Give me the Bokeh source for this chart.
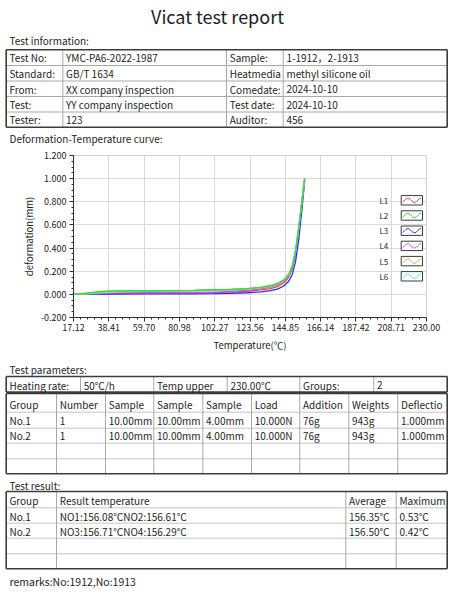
from bokeh.plotting import figure
from bokeh.models import Range1d, FixedTicker, NumeralTickFormatter, BoxAnnotation
from bokeh.layouts import column
from bokeh.embed import file_html
from bokeh.resources import INLINE
from bokeh.core.properties import value
import numpy as np

FONT = "Noto Sans CJK SC"

# ---------------- data ----------------
title_text = "Vicat test report"
section_titles = ["Test information:", "Deformation-Temperature curve:",
                  "Test parameters:", "Test result:"]

info_labels_left = ["Test No:", "Standard:", "From:", "Test:", "Tester:"]
info_values_left = ["YMC-PA6-2022-1987", "GB/T 1634", "XX company inspection",
                    "YY company inspection", "123"]
info_labels_right = ["Sample:", "Heatmedia", "Comedate:", "Test date:", "Auditor:"]
info_values_right = ["1-1912\uff0c2-1913", "methyl silicone oil", "2024-10-10",
                     "2024-10-10", "456"]

param_cells = ["Heating rate:", "50\u2103/h", "Temp upper", "230.00\u2103", "Groups:", "2"]

group_header = ["Group", "Number", "Sample", "Sample", "Sample", "Load",
                "Addition", "Weights", "Deflectio"]
group_row1 = ["No.1", "1", "10.00mm", "10.00mm", "4.00mm", "10.000N", "76g", "943g", "1.000mm"]
group_row2 = ["No.2", "1", "10.00mm", "10.00mm", "4.00mm", "10.000N", "76g", "943g", "1.000mm"]

result_header = ["Group", "Result temperature", "Average", "Maximum"]
result_row1 = ["No.1", "NO1:156.08\u2103NO2:156.61\u2103", "156.35\u2103", "0.53\u2103"]
result_row2 = ["No.2", "NO3:156.71\u2103NO4:156.29\u2103", "156.50\u2103", "0.42\u2103"]

remarks_text = "remarks:No:1912,No:1913"

# curve data (temperature in degC, deformation in mm)
temps = [17.12, 25, 35, 45, 60, 75, 90, 102, 112, 122, 130, 136, 140, 144,
         147, 149, 151, 153, 155, 156.5]
L1 = [0, 0.002, 0.005, 0.008, 0.010, 0.012, 0.014, 0.016, 0.020, 0.027, 0.038,
      0.050, 0.066, 0.100, 0.150, 0.22, 0.34, 0.55, 0.80, 0.99]
L2 = [0, 0.010, 0.025, 0.030, 0.031, 0.032, 0.035, 0.040, 0.042, 0.050, 0.060,
      0.075, 0.092, 0.125, 0.175, 0.24, 0.37, 0.58, 0.82, 1.00]
L3 = [0, 0.000, 0.002, 0.003, 0.004, 0.004, 0.005, 0.006, 0.008, 0.014, 0.022,
      0.032, 0.045, 0.072, 0.115, 0.17, 0.28, 0.48, 0.75, 0.98]
L4 = [0, 0.003, 0.008, 0.012, 0.014, 0.015, 0.016, 0.018, 0.025, 0.035, 0.048,
      0.062, 0.080, 0.115, 0.165, 0.235, 0.36, 0.57, 0.81, 0.99]
L5 = [0, 0.005, 0.015, 0.022, 0.025, 0.027, 0.030, 0.034, 0.038, 0.046, 0.056,
      0.070, 0.087, 0.120, 0.170, 0.24, 0.365, 0.575, 0.815, 0.995]
L6 = [0, 0.006, 0.018, 0.024, 0.027, 0.029, 0.032, 0.036, 0.040, 0.048, 0.058,
      0.072, 0.089, 0.122, 0.172, 0.24, 0.368, 0.578, 0.818, 0.998]
series_names = ["L1", "L2", "L3", "L4", "L5", "L6"]
series_values = [L1, L2, L3, L4, L5, L6]
series_colors = ["#ff3b3b", "#33dd33", "#2a2aff", "#d24fe0", "#f0a838", "#55eedd"]

x_ticks = [17.12, 38.41, 59.70, 80.98, 102.27, 123.56, 144.85, 166.14, 187.42, 208.71, 230.00]
y_ticks = [-0.2, 0.0, 0.2, 0.4, 0.6, 0.8, 1.0, 1.2]

x_label = "Temperature(\u2103)"
y_label = "deformation(mm)"

# ---------------- helpers ----------------
W = 471
OUTER = "#3c3c3c"
INNER_V = "#a8a8a8"
INNER_H = "#c4c4c4"
TXT = "#1e1e1e"
FS = value("10px")


def page_fig(y_top, y_bot):
    p = figure(width=W, height=int(round(y_bot - y_top)), title=None,
               x_range=Range1d(0, W), y_range=Range1d(y_bot, y_top),
               x_axis_type=None, y_axis_type=None, toolbar_location=None,
               output_backend="svg", min_border=0, outline_line_color=None,
               frame_align=False)
    p.grid.visible = False
    return p


def txt(p, xs, ys, texts, size=FS, align="left"):
    p.text(x=xs, y=ys, text=texts, text_font=value(FONT), text_font_size=size,
           text_baseline="middle", text_align=align, text_color=TXT)


def table(p, left, right, top, bottom, rows, cols, inner_h=INNER_H):
    if rows:
        p.segment(x0=[left] * len(rows), x1=[right] * len(rows), y0=rows, y1=rows,
                  line_color=inner_h, line_width=1)
    if cols:
        p.segment(x0=cols, x1=cols, y0=[top] * len(cols), y1=[bottom] * len(cols),
                  line_color=INNER_V, line_width=1)
    p.segment(x0=[left, left, left, right], x1=[right, right, left, right],
              y0=[top, bottom, top, top], y1=[top, bottom, bottom, bottom],
              line_color=OUTER, line_width=1.6)


def row_texts(p, cells, col_lefts, mid):
    txt(p, [c + 3.2 for c in col_lefts[:len(cells)]], [mid] * len(cells), cells)


TL, TR = 5.7, 446.7

# ---------------- top section (page y 0..146) ----------------
top = page_fig(0, 146)
txt(top, [217], [15.5], [title_text], size=value("18px"), align="center")
txt(top, [9], [40], [section_titles[0]])
info_rows = [65, 80.5, 96, 111.5]
info_cols = [62.3, 226, 282.7]
table(top, TL, TR, 49.3, 126.7, info_rows, info_cols, inner_h=INNER_V)
info_left = [TL, 62.3, 226, 282.7]
row_edges = [49.3] + info_rows + [126.7]
for i in range(5):
    mid = (row_edges[i] + row_edges[i + 1]) / 2 + 0.3
    row_texts(top, [info_labels_left[i], info_values_left[i],
                    info_labels_right[i], info_values_right[i]], info_left, mid)
txt(top, [9], [137.5], [section_titles[1]])

# ---------------- chart (page y 146..359) ----------------
X0, X1 = x_ticks[0], x_ticks[-1]
Y0, Y1 = y_ticks[0], y_ticks[-1]
chart = figure(width=W, height=213, x_range=Range1d(X0, X1), y_range=Range1d(Y0, Y1),
               toolbar_location=None, output_backend="svg", title=None,
               min_border_left=73, min_border_right=W - 426, min_border_top=9,
               min_border_bottom=42, outline_line_color="#d0d0d0", frame_align=False)
FX0, FX1, FY0, FY1 = 73.0, 426.0, 155.0, 317.0  # page px of frame


def tx(px):
    return X0 + (px - FX0) / (FX1 - FX0) * (X1 - X0)


def ty(py):
    return Y1 - (py - FY0) / (FY1 - FY0) * (Y1 - Y0)


x_minor = [a + (b - a) * k / 5 for a, b in zip(x_ticks[:-1], x_ticks[1:]) for k in range(1, 5)]
y_minor = [a + (b - a) * k / 4 for a, b in zip(y_ticks[:-1], y_ticks[1:]) for k in range(1, 4)]
chart.xaxis.ticker = FixedTicker(ticks=x_ticks, minor_ticks=x_minor)
chart.yaxis.ticker = FixedTicker(ticks=y_ticks, minor_ticks=y_minor)
chart.xaxis.formatter = NumeralTickFormatter(format="0.00")
chart.yaxis.formatter = NumeralTickFormatter(format="0.000")
for ax in (chart.xaxis, chart.yaxis):
    ax.axis_line_color = "#303030"
    ax.major_tick_line_color = "#303030"
    ax.minor_tick_line_color = "#303030"
    ax.major_tick_out = 4
    ax.major_tick_in = 0
    ax.minor_tick_out = 2
    ax.minor_tick_in = 0
    ax.major_label_text_font = FONT
    ax.major_label_text_font_size = "9px"
    ax.major_label_text_color = "#222222"
    ax.axis_label_text_font = FONT
    ax.axis_label_text_font_size = "9.5px"
    ax.axis_label_text_font_style = "normal"
    ax.axis_label_text_color = "#222222"
chart.xaxis.major_label_standoff = 2
chart.yaxis.major_label_standoff = 3
chart.xaxis.axis_label_standoff = 4
chart.yaxis.axis_label_standoff = 2
chart.xaxis.axis_label = x_label
chart.yaxis.axis_label = y_label
chart.grid.grid_line_color = "#d9d9d9"
chart.grid.grid_line_width = 1

for vals, col in zip(series_values, series_colors):
    chart.line(temps, vals, line_color=col, line_width=1.3)
# green drawn on top as in the reference
chart.line(temps, L2, line_color=series_colors[1], line_width=1.3)

# legend (label, then a box holding a wavy sample)
wave_px = np.linspace(402.2, 420.5, 13)
for i, (name, col) in enumerate(zip(series_names, series_colors)):
    cy = 199.8 + 15.2 * i
    txt(chart, [tx(379)], [ty(cy)], [name], size=value("8px"))
    chart.quad(left=[tx(400.7)], right=[tx(422)], top=[ty(cy - 4.7)], bottom=[ty(cy + 4.7)],
               fill_color="white", line_color="#3a3a3a", line_width=1)
    wave_py = cy - 2.2 * np.sin(np.linspace(-0.3 * np.pi, 2.5 * np.pi, 13))
    chart.line([tx(v) for v in wave_px], [ty(v) for v in wave_py], line_color=col, line_width=1)

chart.add_layout(BoxAnnotation(left=15, right=441, top=0.5, bottom=212.5,
                               left_units="canvas", right_units="canvas",
                               top_units="canvas", bottom_units="canvas",
                               fill_color=None, fill_alpha=0, line_color="#9a9a9a",
                               line_width=1.2, level="overlay"))

# ---------------- bottom section (page y 359..598) ----------------
bot = page_fig(359, 598)
txt(bot, [9], [369], [section_titles[2]])
param_cols = [80, 153.3, 226.7, 299.3, 373.3]
table(bot, TL, TR, 376, 391.6, [], param_cols)
row_texts(bot, param_cells, [TL] + param_cols, 384.5)

g_rows = [411.7, 427.7, 442.7, 458.3]
g_cols = [56, 105, 153.3, 202.3, 251, 299.3, 348.3, 397.3]
table(bot, TL, TR, 393, 473.3, g_rows, g_cols)
row_texts(bot, group_header, [TL] + g_cols, 403.5)
row_texts(bot, group_row1, [TL] + g_cols, 420.2)
row_texts(bot, group_row2, [TL] + g_cols, 435.4)

txt(bot, [9], [484.7], [section_titles[3]])
r_rows = [507.3, 522.7, 537.7, 553.3]
r_cols = [56, 345.3, 395.7]
table(bot, TL, TR, 491, 568.3, r_rows, r_cols)
row_texts(bot, result_header, [TL] + r_cols, 499.7)
row_texts(bot, result_row1, [TL] + r_cols, 515.5)
row_texts(bot, result_row2, [TL] + r_cols, 530.8)

txt(bot, [9], [580.7], [remarks_text], size=value("10.5px"))

layout = column(top, chart, bot, spacing=0)
open("out.html", "w").write(file_html(layout, INLINE))
